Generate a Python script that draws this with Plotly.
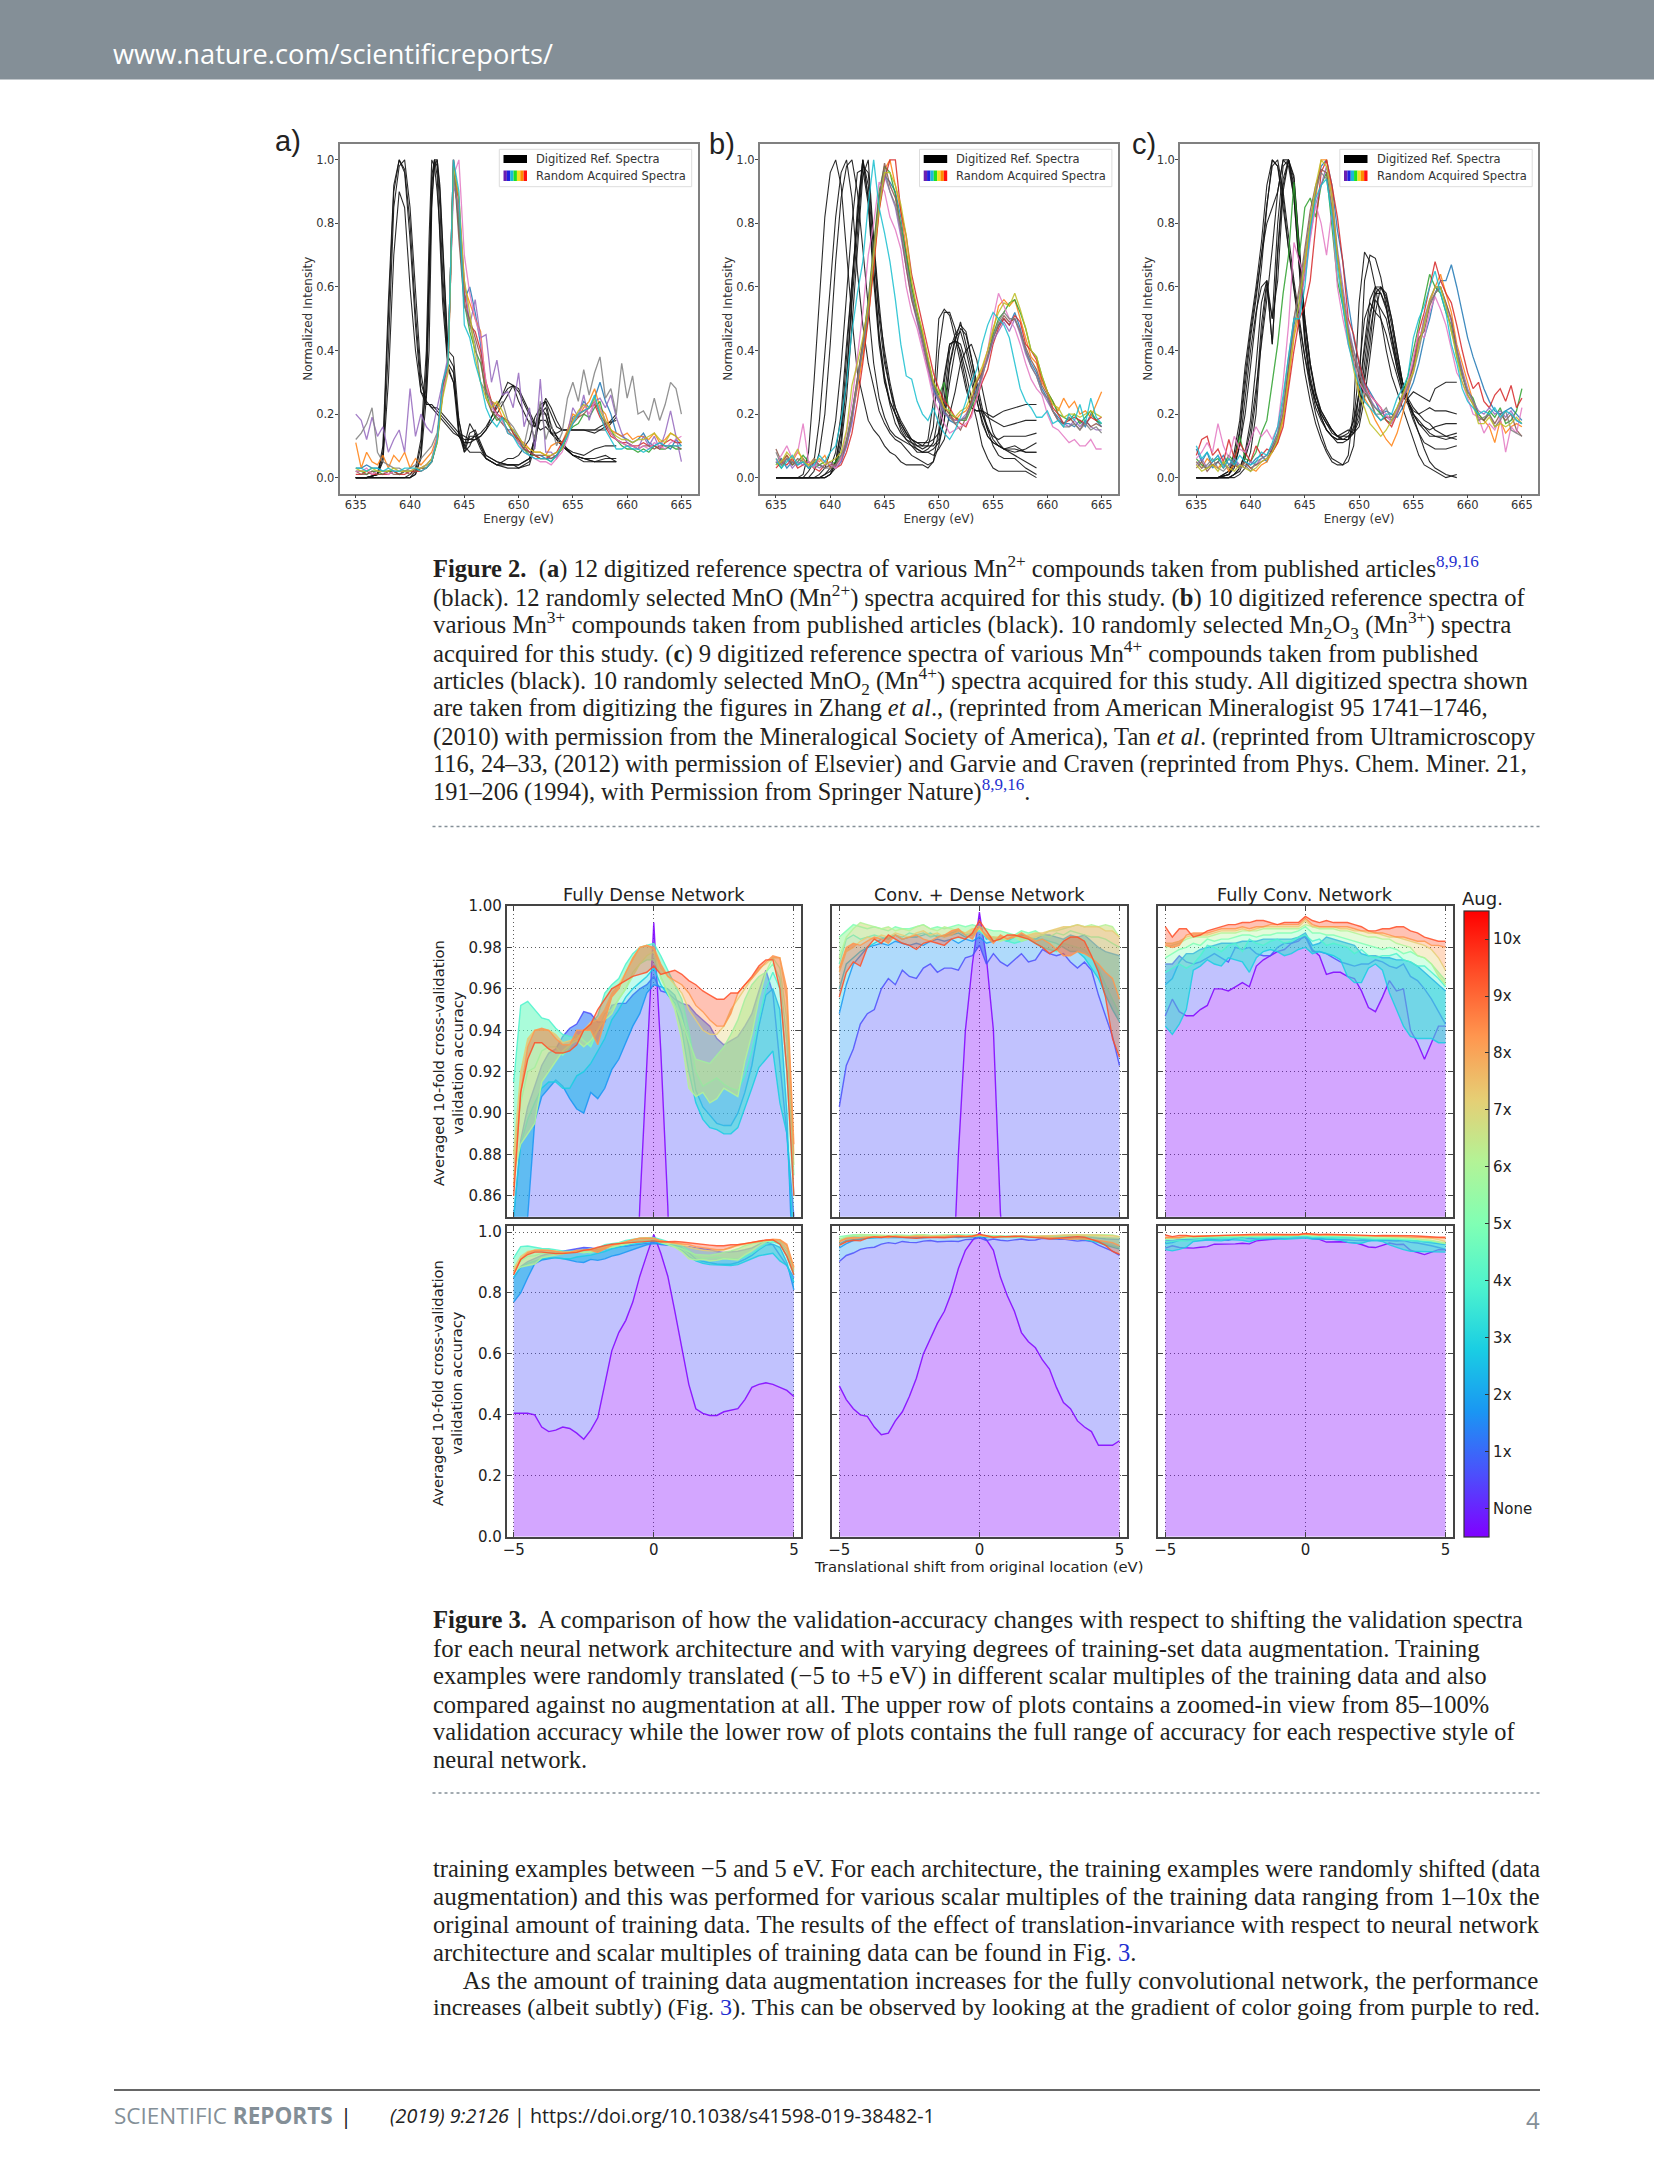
import plotly.graph_objects as go

W, H = 1654, 2174

# ---------- Figure 2 data (intensity in percent) ----------
ENERGY = [635,635.5,636,636.5,637,637.5,638,638.5,639,639.5,
 640,640.5,641,641.5,642,642.5,643,643.5,644,644.5,
 645,645.5,646,646.5,647,647.5,648,648.5,649,649.5,
 650,650.5,651,651.5,652,652.5,653,653.5,654,654.5,
 655,655.5,656,656.5,657,657.5,658,658.5,659,659.5,
 660,660.5,661,661.5,662,662.5,663,663.5,664,664.5,665]

REF_A_X = [635,636,637,637.5,638,638.5,639,639.5,640,640.5,
 641,641.5,641.75,642,642.25,642.5,642.75,643,643.5,644,
 644.5,645,645.5,646,646.5,647,648,649,649.5,650,
 651,651.5,652,652.5,653,653.5,654,655,656,657,658,659]
REF_A = [
 [0,0,1,10,55,92,100,96,75,48, 27,23,23,22,21,20,19,18,16,14, 13,12,12,13,14,16,22,30,29,24, 17,16,23,24,20,16,15,15,15,15, 17,18],
 [0,0,1,6,40,85,98,100,85,58, 33,23,23,23,22,22,21,20,18,16, 14,13,12,12,13,15,23,28,29,27, 20,16,20,25,22,18,15,15,15,14, 16,20],
 [0,0,1,8,50,90,100,97,80,52, 30,24,23,22,22,21,20,19,17,15, 13,11,11,12,13,15,20,26,29,28, 21,17,15,16,14,14,15,15,15,15, 15,19],
 [0,0,1,5,30,70,90,85,60,40, 27,25,40,85,100,95,75,55,34,30, 18,10,8,8,8,6,4,4,4,4, 6,13,20,22,16,13,10,7,6,5, 5,5],
 [0,0,0,0,0,0,0,0,0,1, 7,35,65,92,100,100,90,72,38,35, 14,8,13,13,9,6,4,3,3,3, 5,12,20,20,14,13,11,7,5,5, 6,6],
 [0,0,0,0,0,0,0,0,0,2, 10,30,60,95,100,98,85,65,36,33, 15,9,14,15,11,7,5,4,4,4, 6,13,18,18,14,12,10,7,6,6, 7,5],
 [0,0,0,0,0,0,0,0,1,3, 12,40,75,100,98,90,78,60,35,30, 13,10,17,14,10,7,5,4,4,3, 4,10,21,24,16,13,10,7,6,5, 5,5],
 [0,0,0,0,0,0,0,0,0,1, 6,25,55,88,98,100,92,75,40,38, 18,8,10,14,10,6,4,6,6,7, 12,19,22,20,14,12,10,8,7,9, 10,10],
]
ACQ_A = [
 [3,3,4,3,3,2,2,2,1,2, 2,2,3,4,6,12,28,36,100,78, 56,60,52,42,28,23,20,18,15,15, 12,9,8,7,7,6,6,7,9,13, 19,20,24,22,25,30,24,20,14,13, 12,11,12,14,11,10,11,10,9,12, 10],
 [11,3,8,5,4,7,3,7,5,8, 3,6,4,6,8,13,26,35,96,88, 60,55,50,46,28,24,23,19,14,13, 12,11,9,8,8,7,10,11,11,15, 20,19,22,24,28,22,20,15,14,13, 14,12,13,13,12,14,11,12,14,13, 11],
 [2,2,1,2,2,1,2,2,1,2, 2,2,3,3,5,11,27,37,98,80, 55,46,40,36,27,21,18,19,17,14, 11,9,7,7,6,6,5,7,9,14, 16,17,20,19,22,24,17,15,12,10, 9,9,8,9,8,10,9,9,10,9, 9],
 [1,1,2,1,1,1,1,2,1,1, 2,2,2,3,5,12,29,36,100,86, 58,48,46,40,30,24,20,19,18,14, 12,10,8,7,6,6,7,8,11,14, 18,20,21,22,23,19,16,13,12,11, 11,10,10,11,10,10,9,11,12,11, 11],
 [20,18,12,19,13,16,8,12,15,8, 28,13,20,16,14,22,30,38,92,85, 62,48,56,44,45,30,37,26,27,22, 33,16,22,9,31,8,8,6,10,14, 22,19,26,18,24,25,22,26,19,14, 11,10,9,13,10,13,9,14,21,13, 5],
 [2,1,1,2,1,1,2,1,1,2, 1,2,3,3,5,12,26,36,100,75, 54,50,44,38,25,21,19,17,15,13, 11,9,8,7,7,7,6,7,10,14, 17,19,20,22,24,20,17,14,12,11, 10,10,9,10,10,9,10,10,10,10, 9],
 [2,2,3,1,2,2,1,2,2,2, 2,3,3,4,6,13,27,34,95,100, 70,58,50,44,30,22,20,18,14,13, 11,8,7,6,5,5,4,6,8,12, 18,20,23,20,24,22,18,14,12,11, 10,10,9,10,9,11,10,9,11,12, 13],
 [12,14,17,22,8,5,4,3,3,2, 3,4,6,8,10,14,30,35,96,82, 55,48,42,30,27,24,22,24,18,16, 13,10,18,12,24,12,17,10,14,25, 30,24,34,26,33,38,25,28,20,36, 25,32,20,21,18,25,18,23,30,28, 20],
 [3,2,2,3,2,2,2,3,2,2, 2,3,3,4,6,11,25,33,98,88, 62,52,38,30,25,22,24,21,17,15, 13,10,9,8,8,7,7,8,9,14, 18,21,23,22,25,21,18,15,13,12, 12,11,12,12,13,14,12,11,14,13, 11],
 [3,3,2,3,3,2,3,2,2,3, 3,3,2,3,5,12,30,36,100,90, 48,44,36,30,22,18,16,19,14,13, 10,8,7,6,6,6,5,7,10,13, 17,20,21,22,26,20,15,12,9,9, 10,9,9,8,9,10,11,10,10,10, 10],
]
REF_B_X = [635,636,637,637.5,638,638.5,639,639.5,640,640.5,
 641,641.5,642,642.5,643,643.5,644,644.5,645,645.5,
 646,646.5,647,647.5,648,648.5,649,649.5,650,650.5,
 651,651.5,652,652.5,653,653.5,654,654.5,655,655.5,
 656,657,658,659]
REF_B = [
 [0,0,0,1,8,30,55,82,96,100, 92,72,50,33,25,18,15,13,10,8, 7,5,4,4,4,4,3,5,15,30, 42,43,40,33,25,18,10,6,3,2, 2,2,2,0],
 [0,0,0,0,2,5,18,38,60,82, 96,100,88,65,48,36,28,21,17,14, 12,11,9,7,6,5,4,5,10,18, 30,40,47,45,38,30,22,15,10,7, 6,6,3,1],
 [0,0,0,0,0,2,8,20,42,68, 88,98,100,90,72,52,36,25,19,15, 13,12,11,10,8,8,9,11,20,32, 42,43,42,36,30,24,18,13,11,10, 9,10,8,8],
 [0,0,0,0,0,0,1,3,8,18, 35,58,80,96,97,86,62,42,30,24, 20,17,14,12,10,9,10,16,40,52, 52,47,38,30,22,21,21,19,18,17, 16,17,18,18],
 [0,0,0,0,0,0,0,1,3,8, 20,42,62,80,100,88,66,44,31,23, 17,14,12,11,10,10,12,24,50,53, 51,44,36,28,22,21,21,20,19,20, 21,22,23,23],
 [0,0,0,0,0,0,0,0,1,4, 12,30,58,85,100,88,65,45,32,24, 20,16,13,12,11,10,10,10,12,25, 40,45,48,46,38,28,20,15,13,12, 13,13,13,14],
 [0,0,0,0,0,0,0,1,2,5, 15,38,62,82,100,92,70,50,36,28, 22,17,14,11,9,8,8,9,11,18, 35,43,49,42,35,27,20,16,12,10, 9,9,8,8],
 [0,0,0,0,0,0,0,0,1,3, 10,25,48,72,95,100,75,55,38,28, 20,15,12,10,9,8,8,7,9,12, 20,27,36,40,42,37,28,20,14,11, 9,7,5,3],
 [0,0,0,0,0,0,0,0,1,5, 15,32,55,78,98,96,74,52,40,30, 22,18,15,12,11,11,11,12,14,22, 36,44,46,40,32,24,17,13,11,10, 9,8,9,11],
]
ACQ_B = [
 [4,6,3,5,4,5,3,5,4,3, 4,3,5,10,18,30,40,52,70,88, 95,93,90,82,70,58,50,44,36,28, 24,21,18,17,18,19,23,28,32,38, 44,48,50,48,52,47,40,36,33,28, 25,21,19,17,17,16,18,16,20,18, 16],
 [6,4,7,5,8,6,4,6,5,7, 3,4,6,11,19,28,38,50,66,84, 97,100,92,84,72,60,52,46,37,30, 26,22,20,18,20,21,24,30,34,40, 46,54,56,54,56,50,44,38,36,30, 27,24,21,25,22,24,20,21,19,23, 27],
 [5,3,6,4,5,7,5,3,4,5, 4,5,7,12,20,31,42,56,74,90, 98,96,89,80,70,60,52,45,37,30, 26,30,20,19,18,18,22,26,33,38, 45,50,52,55,56,52,47,40,38,32, 27,24,20,19,18,20,17,19,21,18, 17],
 [3,5,4,6,3,4,5,3,2,4, 5,3,4,8,14,24,36,50,66,84, 94,100,100,84,76,64,56,48,40,33, 28,24,22,19,17,16,20,25,30,34, 42,47,50,48,51,49,42,40,37,31, 27,22,20,17,18,19,18,17,19,18, 19],
 [5,4,6,3,5,4,5,4,3,4, 5,3,5,10,17,30,43,55,70,86, 95,90,85,76,66,56,49,41,34,27, 24,20,19,18,18,20,23,27,33,37, 43,46,49,46,50,45,39,35,32,27, 24,21,18,17,16,18,16,18,16,15, 15],
 [9,5,7,4,6,5,3,5,4,3, 4,4,6,11,20,31,43,54,72,88, 99,92,88,78,66,56,50,43,35,29, 25,22,20,17,15,19,24,30,33,38, 44,48,51,49,50,46,41,37,34,29, 26,21,18,17,19,17,15,18,16,17, 16],
 [5,7,10,6,8,17,5,3,6,5, 4,3,6,14,24,38,52,70,80,93, 90,82,78,72,60,52,47,40,33,25, 21,17,14,15,16,17,19,25,31,40, 50,58,54,50,47,42,36,31,28,26, 20,16,15,13,11,12,10,10,12,9, 9],
 [8,4,6,5,4,6,3,6,4,3, 3,4,7,11,20,30,41,52,70,86, 97,90,86,78,68,58,50,44,36,29, 25,21,19,17,18,19,23,27,32,38, 44,49,52,50,50,46,40,35,32,27, 25,21,18,16,16,17,15,17,15,16, 14],
 [4,5,8,6,9,5,4,5,6,4, 5,6,8,15,29,36,44,54,70,85, 96,96,92,86,76,62,53,46,38,30, 27,22,21,19,21,22,26,31,35,40, 47,52,55,54,58,53,47,40,38,32, 27,23,22,19,20,20,19,20,21,20, 19],
 [6,3,5,7,4,5,3,4,7,5, 8,10,18,30,46,58,68,86,100,85, 77,68,56,42,32,31,24,20,18,22, 17,14,12,15,19,24,30,34,42,48, 52,50,48,44,36,28,24,22,19,19, 21,17,18,16,20,18,23,17,25,19, 17],
]
REF_C_X = [635,636,637,638,638.5,639,639.5,640,640.5,641,
 641.5,642,642.5,643,643.5,644,644.5,645,645.5,646,
 646.5,647,647.5,648,648.5,649,649.5,650,650.5,651,
 651.5,652,652.5,653,653.5,654,654.5,655,655.5,656,
 656.5,657,658,659]
REF_C = [
 [0,0,0,2,8,18,35,48,60,74, 92,100,98,85,72,58,45,33,24,17, 12,8,5,4,4,7,22,55,71,68, 60,50,40,32,27,22,17,12,7,4, 3,2,0,1],
 [0,0,0,1,5,14,30,44,56,70, 86,98,100,90,76,62,50,38,28,20, 14,9,6,5,4,5,10,28,62,70, 69,63,54,45,36,30,24,19,14,9, 5,3,1,0],
 [0,0,0,0,1,2,6,12,25,48, 62,42,70,92,100,92,68,45,32,24, 19,15,13,12,12,13,14,16,25,38, 52,60,57,50,40,30,25,22,20,18, 17,15,13,12],
 [0,0,0,0,0,1,3,8,20,44, 60,50,62,90,100,95,72,50,36,26, 20,17,14,13,14,15,14,18,30,42, 58,58,54,44,34,28,24,21,20,21, 22,21,21,20],
 [0,0,0,1,3,10,25,40,52,60, 62,50,80,98,100,88,66,44,30,22, 18,15,13,12,13,13,15,22,36,50, 60,60,56,48,38,30,24,20,17,16, 15,16,17,17],
 [0,0,0,2,6,15,32,46,58,70, 80,85,90,100,98,88,64,42,30,24, 20,17,15,13,12,12,16,27,42,56, 60,58,53,45,36,28,25,27,26,25, 24,28,30,30],
 [0,0,0,0,1,3,8,18,35,55, 62,42,72,94,100,90,70,48,35,26, 21,18,15,13,12,12,14,20,32,46, 56,53,50,42,34,27,24,20,17,15, 13,13,13,14],
 [0,0,0,1,4,10,20,35,50,66, 85,100,98,88,72,60,48,38,30,24, 19,15,13,11,11,12,18,34,50,55, 52,50,45,38,32,26,23,18,14,11, 10,9,9,10],
 [0,0,0,0,1,3,7,15,28,42, 56,72,90,100,100,94,72,50,36,27, 21,18,15,13,13,14,18,26,40,52, 58,60,58,50,40,30,24,20,18,16, 14,13,12,13],
]
ACQ_C = [
 [9,5,8,3,5,7,4,6,3,5, 4,6,7,5,9,12,20,35,48,55, 68,78,90,98,100,92,78,68,55,44, 36,30,27,24,20,21,20,19,22,26, 30,36,44,50,58,62,62,67,60,52, 44,38,33,28,24,21,20,21,22,20, 18],
 [5,3,6,4,3,5,2,4,3,5, 3,2,4,5,8,11,18,30,44,52, 66,80,88,100,100,90,70,56,46,36, 28,25,22,18,15,12,10,14,20,27, 34,42,50,55,60,64,58,52,42,36, 30,24,20,18,16,11,18,14,16,17, 16],
 [6,4,3,5,6,4,7,5,13,6, 5,8,14,18,30,42,58,70,93,70, 85,88,82,92,96,78,62,54,44,36, 30,28,24,22,20,18,17,21,26,32, 40,48,55,64,60,58,52,48,38,32, 27,25,20,18,21,19,22,17,18,21, 28],
 [7,12,13,7,9,5,12,6,11,8, 5,10,7,9,8,11,16,28,40,50, 54,62,80,96,100,92,82,68,50,45, 36,30,26,24,22,18,16,20,24,29, 36,46,52,60,68,62,58,55,48,40, 33,28,30,24,22,26,28,24,29,22, 25],
 [4,6,3,5,7,4,3,6,4,3, 5,4,6,7,10,14,22,34,47,52, 64,76,86,92,98,88,72,60,48,40, 33,29,25,22,21,19,18,21,25,29, 36,42,50,56,60,60,55,49,41,34, 28,24,21,20,22,20,21,19,21,18, 17],
 [3,5,2,4,5,3,6,4,3,5, 3,4,5,6,9,13,20,36,50,60, 72,84,92,97,96,85,70,56,46,38, 32,27,24,20,18,19,19,22,26,30, 35,44,46,54,58,60,55,50,40,33, 26,23,19,18,20,17,20,18,20,15, 13],
 [6,8,11,8,17,10,6,13,9,8, 12,16,13,15,12,16,30,48,74,68, 62,75,86,80,70,84,60,50,42,36, 30,27,26,24,22,20,17,21,25,30, 38,46,44,52,57,53,48,41,33,30, 25,20,19,14,17,15,19,8,16,14, 22],
 [5,3,4,6,3,2,4,5,3,4, 2,5,6,7,10,14,24,38,50,58, 70,82,90,96,94,84,68,58,46,40, 34,28,25,20,20,22,18,20,25,28, 33,40,48,55,58,60,54,46,40,32, 27,24,18,19,20,16,18,21,15,14, 13],
 [4,2,3,4,2,5,3,2,4,3, 2,3,5,6,8,12,19,32,45,56, 68,80,92,100,98,88,70,56,44,34, 26,22,17,15,13,15,18,22,26,30, 33,42,48,56,60,60,54,46,38,30, 26,23,17,17,19,16,17,16,17,19, 17],
 [10,6,8,5,7,3,6,4,7,5, 4,5,8,7,11,16,26,38,50,50, 60,78,88,92,94,82,66,54,42,35, 29,24,22,20,18,20,20,25,28,32, 44,50,54,60,65,58,52,42,36,28, 24,22,20,21,20,22,19,21,20,18, 17],
]

# ---------- Figure 3 data (accuracy in per mille) ----------
SHIFT = [-5,-4.75,-4.5,-4.25,-4,-3.75,-3.5,-3.25,-3,-2.75,
 -2.5,-2.25,-2,-1.75,-1.5,-1.25,-1,-.75,-.5,-.25,
 0,.25,.5,.75,1,1.25,1.5,1.75,2,2.25,
 2.5,2.75,3,3.25,3.5,3.75,4,4.25,4.5,4.75,5]
DENSE = [
 [405,405,405,400,360,345,350,360,355,340, 320,350,390,500,610,670,710,770,855,925, 992,930,855,740,620,500,420,405,398,398, 410,415,420,450,490,500,505,500,490,480, 460],
 [850,887,903,913,923,929,931,937,941,943, 949,948,944,944,952,953,953,957,960,962, 966,959,958,955,953,952,948,945,942,936, 933,935,937,942,948,959,969,958,923,890, 850],
 [770,800,850,896,908,912,916,913,907,902, 900,910,907,912,921,926,934,942,948,958, 962,961,960,957,948,932,911,903,899,895, 894,894,900,910,923,942,957,960,950,900, 810],
 [850,885,897,905,912,915,915,912,912,918, 920,924,930,936,945,950,956,960,963,966, 970,962,957,953,940,920,905,897,893,892, 890,890,893,902,912,922,926,930,905,890, 835],
 [915,952,954,950,946,945,941,938,937,936, 940,943,947,958,962,965,972,977,980,981, 982,976,969,962,955,940,920,913,915,917, 914,912,911,918,930,945,960,968,960,920, 860],
 [880,905,920,922,930,932,932,928,932,938, 935,932,940,948,950,955,960,968,972,974, 974,966,958,952,945,935,926,925,924,928, 932,938,945,955,962,966,968,972,965,935, 870],
 [870,885,890,895,915,920,925,930,933,935, 932,935,940,945,948,955,960,966,972,976, 978,965,958,950,935,912,908,910,905,907, 912,910,908,925,938,955,968,975,970,945, 875],
 [880,920,936,940,940,940,938,934,935,936, 940,944,945,950,958,962,968,974,980,981, 979,970,966,962,958,950,945,940,938,938, 942,950,955,960,965,970,972,975,975,955, 880],
 [865,910,932,940,941,940,936,933,933,940, 940,940,933,945,956,960,968,975,980,981, 980,972,966,964,962,958,952,949,945,942, 942,948,958,962,965,969,973,976,975,960, 885],
 [860,910,926,934,934,931,929,929,930,933, 940,943,950,955,960,962,964,966,967,968, 971,967,968,969,967,964,962,959,957,955, 955,958,958,962,966,971,974,974,960,920, 860],
]
CONV_DENSE = [
 [495,450,420,400,395,360,335,340,380,410, 460,520,600,650,700,740,800,880,940,972, 997,975,940,852,790,740,670,640,620,580, 550,490,440,420,380,360,345,300,300,300, 315],
 [903,923,931,943,948,950,960,965,962,969, 966,965,970,972,968,970,970,969,975,976, 981,972,977,973,971,974,977,973,974,979, 977,976,977,973,970,973,969,957,947,937, 923],
 [948,962,972,976,980,981,982,981,983,982, 981,982,981,983,984,983,984,982,984,983, 985,982,983,984,984,985,986,985,984,986, 986,985,984,986,985,986,983,980,978,977, 976],
 [960,972,975,978,980,982,984,985,986,984, 985,985,986,987,985,986,986,987,985,986, 990,984,985,984,983,985,986,985,984,984, 983,982,980,978,978,975,970,965,957,950, 944],
 [972,984,986,984,985,986,985,984,986,985, 987,986,987,985,986,985,987,988,986,987, 988,985,983,984,983,982,983,984,982,980, 979,978,982,981,980,979,975,970,962,955, 948],
 [985,988,991,990,989,990,989,988,990,989, 989,990,991,989,990,989,990,991,990,991, 990,989,988,988,987,986,988,987,988,986, 985,987,986,988,987,986,985,985,984,982, 980],
 [975,985,989,992,991,990,989,990,988,989, 988,990,991,989,988,990,989,988,987,986, 989,985,984,983,984,985,983,984,985,986, 988,988,989,990,991,990,991,990,991,990, 985],
 [968,978,980,983,985,984,986,985,987,986, 985,987,988,986,987,985,986,988,987,989, 989,986,985,985,984,986,985,986,987,987, 988,989,990,990,991,990,990,990,988,988, 985],
 [970,980,982,981,983,985,984,982,986,984, 985,986,984,983,985,986,988,989,986,984, 990,985,982,986,984,985,987,985,983,984, 982,979,976,976,978,977,975,972,968,965, 955],
 [956,968,973,971,980,984,982,986,984,982, 981,979,982,983,982,981,984,985,984,987, 993,988,983,984,986,986,985,984,982,980, 977,979,983,985,985,983,976,968,956,936, 927],
]
FULL_CONV = [
 [947,955,949,947,947,950,952,960,960,959, 961,963,961,971,974,976,978,979,982,983, 986,979,976,967,968,968,966,965,959,951, 949,956,964,959,960,940,934,926,934,942, 942],
 [972,972,976,973,972,973,975,977,975,973, 980,979,980,977,976,976,980,982,982,984, 985,978,978,977,975,973,972,971,972,972, 974,973,971,970,972,966,964,960,955,949, 943],
 [962,965,973,977,977,979,980,981,982,982, 982,983,983,983,984,984,984,984,984,985, 987,981,982,985,984,983,982,981,977,976, 976,975,975,974,974,973,971,968,965,962, 959],
 [942,938,943,950,969,971,974,972,971,975, 974,973,968,975,978,979,978,976,977,979, 980,977,978,977,976,974,966,963,963,970, 972,969,958,950,942,937,936,936,936,934, 934],
 [968,970,972,970,972,976,981,980,978,981, 982,978,984,982,981,983,984,982,983,985, 986,983,984,981,982,981,980,977,979,976, 975,976,976,977,974,973,971,971,968,965, 961],
 [975,977,979,980,982,981,984,983,984,984, 985,986,986,985,986,986,987,987,987,988, 990,987,987,986,986,985,984,983,982,981, 980,979,980,979,977,978,976,975,972,968, 964],
 [980,981,982,984,985,985,985,986,987,987, 987,988,988,988,989,989,989,989,989,989, 991,990,989,989,989,988,988,987,986,985, 985,984,984,982,981,980,976,975,972,966, 962],
 [982,982,983,985,986,986,986,987,988,988, 988,989,988,989,990,990,990,990,990,990, 993,990,990,990,990,989,989,988,988,987, 987,986,985,985,984,983,982,981,979,975, 969],
 [981,980,981,986,987,987,987,988,989,989, 989,990,989,990,990,991,991,991,991,991, 994,991,990,990,990,990,990,989,988,988, 987,987,986,985,985,984,983,983,981,981, 980],
 [990,985,989,989,985,986,988,989,990,991, 991,992,992,993,993,992,991,992,992,992, 995,993,992,993,992,992,992,991,990,988, 988,989,989,990,990,988,987,985,984,983, 983],
]
AUG_LABELS = ["None","1x","2x","3x","4x","5x","6x","7x","8x","9x","10x"]
NET_TITLES = ["Fully Dense Network","Conv. + Dense Network","Fully Conv. Network"]

# ---------- text ----------
LINK = "<span style='color:#1f2fd0'>%s</span>"
CAP2 = [
 "<b>Figure 2.</b>  (<b>a</b>) 12 digitized reference spectra of various Mn<sup>2+</sup> compounds taken from published articles<sup>"+LINK%"8,9,16"+"</sup>",
 "(black). 12 randomly selected MnO (Mn<sup>2+</sup>) spectra acquired for this study. (<b>b</b>) 10 digitized reference spectra of",
 "various Mn<sup>3+</sup> compounds taken from published articles (black). 10 randomly selected Mn<sub>2</sub>O<sub>3</sub> (Mn<sup>3+</sup>) spectra",
 "acquired for this study. (<b>c</b>) 9 digitized reference spectra of various Mn<sup>4+</sup> compounds taken from published",
 "articles (black). 10 randomly selected MnO<sub>2</sub> (Mn<sup>4+</sup>) spectra acquired for this study. All digitized spectra shown",
 "are taken from digitizing the figures in Zhang <i>et al</i>., (reprinted from American Mineralogist 95 1741–1746,",
 "(2010) with permission from the Mineralogical Society of America), Tan <i>et al</i>. (reprinted from Ultramicroscopy",
 "116, 24–33, (2012) with permission of Elsevier) and Garvie and Craven (reprinted from Phys. Chem. Miner. 21,",
 "191–206 (1994), with Permission from Springer Nature)<sup>"+LINK%"8,9,16"+"</sup>.",
]
CAP3 = [
 "<b>Figure 3.</b>  A comparison of how the validation-accuracy changes with respect to shifting the validation spectra",
 "for each neural network architecture and with varying degrees of training-set data augmentation. Training",
 "examples were randomly translated (−5 to +5 eV) in different scalar multiples of the training data and also",
 "compared against no augmentation at all. The upper row of plots contains a zoomed-in view from 85–100%",
 "validation accuracy while the lower row of plots contains the full range of accuracy for each respective style of",
 "neural network.",
]
BODY = [
 "training examples between −5 and 5 eV. For each architecture, the training examples were randomly shifted (data",
 "augmentation) and this was performed for various scalar multiples of the training data ranging from 1–10x the",
 "original amount of training data. The results of the effect of translation-invariance with respect to neural network",
 "architecture and scalar multiples of training data can be found in Fig. "+LINK%"3"+".",
 "     As the amount of training data augmentation increases for the fully convolutional network, the performance",
 "increases (albeit subtly) (Fig. "+LINK%"3"+"). This can be observed by looking at the gradient of color going from purple to red.",
]
CAP2_Y = [568,596.5,625,653,681,708.5,736.5,764,790.5]
CAP3_Y = [1619,1648,1676,1704,1731,1759]
BODY_Y = [1869,1897,1924,1952,1980,2007]
CAP2_SIZE = [24.5,24.6,24.85,24.7,24.65,24.6,24.65,24.4,24.3]
CAP3_SIZE = [24.65,24.8,24.75,24.5,24.35,24.55]
BODY_SIZE = [24.45,25.1,24.5,24.6,24.95,24.1]

# ---------- styling ----------
TAB10 = ["#1f77b4","#ff7f0e","#2ca02c","#d62728","#9467bd","#8c564b","#e377c2","#7f7f7f","#bcbd22","#17becf"]
RAINBOW = ["#8000ff","#4c4ffc","#1a96f3","#1acee3","#4df3ce","#80ffb4","#b3f396","#e6ce74","#ff964f","#ff4f28","#ff0000"]
LEG_STRIPS = ["#6a1fb0","#2020e0","#18b8d8","#20e020","#f0e020","#ff8c00","#ff1010"]
SERIF = "Liberation Serif"
DEJA = "DejaVu Sans"
GRAY = "#848f97"

def hexa(c, a):
    return "rgba(%d,%d,%d,%s)" % (int(c[1:3],16), int(c[3:5],16), int(c[5:7],16), a)
def fx(p): return p / W
def fy(p): return 1 - p / H

fig = go.Figure()
layout = dict(width=W, height=H, margin=dict(l=0,r=0,t=0,b=0,autoexpand=False), autosize=False,
              paper_bgcolor="white", plot_bgcolor="white", showlegend=False,
              font=dict(family=DEJA, color="#222222"))
shapes, annos = [], []

def text(x, y, s, size, family=SERIF, color="#231f20", anchor="left", angle=0, va="middle"):
    annos.append(dict(xref="paper", yref="paper", x=fx(x), y=fy(y), text=s, showarrow=False,
                      xanchor=anchor, yanchor=va, align="left" if anchor=="left" else "center",
                      font=dict(family=family, size=size, color=color), textangle=angle,
                      borderpad=0, borderwidth=0))
def rect(x0, y0, x1, y1, fill, line=None, lw=0):
    shapes.append(dict(type="rect", xref="paper", yref="paper", x0=fx(x0), x1=fx(x1), y0=fy(y0), y1=fy(y1),
                       fillcolor=fill, line=dict(color=line or fill, width=lw), layer="above"))
def hline(x0, x1, y, color, width, dash="solid"):
    shapes.append(dict(type="line", xref="paper", yref="paper", x0=fx(x0), x1=fx(x1), y0=fy(y), y1=fy(y),
                       line=dict(color=color, width=width, dash=dash), layer="above"))

axis_n = 0
def new_axes(x0, x1, y0, y1):
    global axis_n
    axis_n += 1
    s = "" if axis_n == 1 else str(axis_n)
    return s, "xaxis"+s, "yaxis"+s, dict(domain=[fx(x0), fx(x1)], anchor="y"+s), dict(domain=[fy(y1), fy(y0)], anchor="x"+s)

# ---------- header / footer ----------
shapes.append(dict(type="rect", xref="paper", yref="paper", x0=0, x1=1, y0=fy(79.5), y1=1,
                   fillcolor=GRAY, line=dict(width=0), layer="below"))
text(113, 53, "www.nature.com/scientificreports/", 27.2, family="Open Sans", color="white")
hline(114, 1540, 2090, "#333333", 1.5)
text(114, 2115, "SCIENTIFIC <b>REPORTS</b>", 22.5, family="Open Sans", color=GRAY)
text(340, 2115, "|", 22, family="Open Sans", color="#222222")
text(390, 2115, "<i>(2019) 9:2126</i> | https://doi.org/10.1038/s41598-019-38482-1", 19.7, family="Open Sans", color="#222222")
text(1540, 2119, "4", 24, family="Open Sans", color=GRAY, anchor="right")

# ---------- captions ----------
for y, s, z in zip(CAP2_Y, CAP2, CAP2_SIZE): text(432.5, y, s, z)
for y, s, z in zip(CAP3_Y, CAP3, CAP3_SIZE): text(432.5, y, s, z)
for y, s, z in zip(BODY_Y, BODY, BODY_SIZE): text(432.5, y, s, z)
hline(432.5, 1540, 826.5, GRAY, 1.5, "dot")
hline(432.5, 1540, 1793, GRAY, 1.5, "dot")

# ---------- Figure 2 ----------
PANELS = [("a)", 339.5, 275, 141, REF_A_X, REF_A, ACQ_A),
          ("b)", 759.7, 709, 144, REF_B_X, REF_B, ACQ_B),
          ("c)", 1180.0, 1132, 144, REF_C_X, REF_C, ACQ_C)]
for label, left, lab_x, lab_y, rx, refs, acqs in PANELS:
    s, xn, yn, xa, ya = new_axes(left, left+358.2, 144, 493.5)
    xa.update(range=[633.5,666.5], tickvals=[635,640,645,650,655,660,665], showline=True, mirror=True,
              linecolor="#808080", linewidth=1.5, ticks="outside", ticklen=3, tickcolor="#444",
              tickfont=dict(size=11.5, family=DEJA, color="#333"), showgrid=False, zeroline=False,
              ticklabelstandoff=-3,
              title=dict(text="Energy (eV)", font=dict(size=12, family=DEJA, color="#333"), standoff=1))
    ya.update(range=[-0.05,1.05], tickvals=[0,.2,.4,.6,.8,1], tickformat=".1f", showline=True, mirror=True,
              linecolor="#808080", linewidth=1.5, ticks="outside", ticklen=3, tickcolor="#444",
              tickfont=dict(size=11.5, family=DEJA, color="#333"), showgrid=False, zeroline=False,
              ticklabelstandoff=-2,
              title=dict(text="Normalized Intensity", font=dict(size=12, family=DEJA, color="#333"), standoff=1))
    layout[xn], layout[yn] = xa, ya
    for r in refs:
        fig.add_trace(go.Scatter(x=rx, y=[v/100 for v in r], mode="lines", xaxis="x"+s, yaxis="y"+s,
                                 line=dict(color="rgba(20,20,20,.9)", width=1.1)))
    for i, a in enumerate(acqs):
        fig.add_trace(go.Scatter(x=ENERGY, y=[v/100 for v in a], mode="lines", xaxis="x"+s, yaxis="y"+s,
                                 line=dict(color=hexa(TAB10[i], .85), width=1.3)))
    text(lab_x, lab_y, label, 29, family="Liberation Sans", color="#222222")
    d = left - 339.5
    rect(499.3+d, 149.3, 691.7+d, 186.7, "rgba(255,255,255,.85)", "#dddddd", 1)
    rect(503.5+d, 155, 527+d, 163, "#000000")
    for k, c in enumerate(LEG_STRIPS):
        rect(503.5+d+k*23.5/7, 170.5, 503.5+d+(k+1)*23.5/7, 181, c)
    text(536+d, 158.7, "Digitized Ref. Spectra", 11.5, family=DEJA, color="#333")
    text(536+d, 175.7, "Random Acquired Spectra", 11.5, family=DEJA, color="#333")

# ---------- Figure 3 ----------
NETS = [DENSE, CONV_DENSE, FULL_CONV]
LEFTS = [506.7, 832.3, 1158.3]
GRID = dict(showgrid=True, griddash="1px,3px", gridcolor="rgba(50,50,50,.8)", gridwidth=1)
for row, (top, bot) in enumerate([(906, 1216.7), (1225.7, 1536.7)]):
    for col, (net, left) in enumerate(zip(NETS, LEFTS)):
        s, xn, yn, xa, ya = new_axes(left, left+294.2, top, bot)
        xa.update(range=[-5.25,5.25], tickvals=[-5,0,5], ticktext=["−5","0","5"], showticklabels=(row==1),
                  showline=True, mirror="allticks", linecolor="#444", linewidth=1.6, ticks="inside", ticklen=5,
                  tickcolor="#444", tickfont=dict(size=15, family=DEJA, color="#222"), zeroline=False,
                  ticklabelstandoff=-2, **GRID)
        if row == 0:
            ya.update(range=[.85,1.0], tickvals=[.86,.88,.90,.92,.94,.96,.98,1.0], tickformat=".2f")
        else:
            ya.update(range=[0,1.0207], tickvals=[0,.2,.4,.6,.8,1.0], tickformat=".1f")
        ya.update(showticklabels=(col==0), showline=True, mirror="allticks", linecolor="#444", linewidth=1.6,
                  ticks="inside", ticklen=5, tickcolor="#444", tickfont=dict(size=15, family=DEJA, color="#222"),
                  zeroline=False, **GRID)
        layout[xn], layout[yn] = xa, ya
        for i, curve in enumerate(net):
            fig.add_trace(go.Scatter(x=SHIFT, y=[v/1000 for v in curve], mode="lines", xaxis="x"+s, yaxis="y"+s,
                                     line=dict(color=hexa(RAINBOW[i], .85), width=1.4),
                                     fill="tozeroy" if i == 0 else "tonexty",
                                     fillcolor=hexa(RAINBOW[i], .35)))
        if row == 0:
            text(left+147.1, 895, NET_TITLES[col], 17.7, family=DEJA, color="#222", anchor="center")
# colour scale
fig.add_trace(go.Scatter(x=[0], y=[5], mode="markers", xaxis="x"+s, yaxis="y"+s,
    marker=dict(size=1, color=[0], cmin=-.5, cmax=10.5, showscale=True,
        colorscale=[[i/10, c] for i, c in enumerate(RAINBOW)],
        colorbar=dict(x=fx(1464.3), xanchor="left", xpad=0, ypad=0, y=fy(1536.7), yanchor="bottom",
                      thickness=24.5, thicknessmode="pixels", len=626.4, lenmode="pixels",
                      tickmode="array", tickvals=list(range(11)), ticktext=AUG_LABELS, ticks="inside",
                      ticklen=4, tickcolor="#333", tickfont=dict(size=15, family=DEJA, color="#222"),
                      outlinewidth=1.2, outlinecolor="#333", borderwidth=0))))
text(1482, 898, "Aug.", 18, family=DEJA, color="#222", anchor="center")
text(448, 1063, "Averaged 10-fold cross-validation<br>validation accuracy", 14.7, family=DEJA, color="#222", anchor="center", angle=-90)
text(447, 1383, "Averaged 10-fold cross-validation<br>validation accuracy", 14.7, family=DEJA, color="#222", anchor="center", angle=-90)
text(979, 1566, "Translational shift from original location (eV)", 14.8, family=DEJA, color="#222", anchor="center")

layout["shapes"], layout["annotations"] = shapes, annos
fig.update_layout(**layout)
fig.write_html("out.html", config=dict(displayModeBar=False),
               post_script="document.body.style.margin='0';document.body.style.overflow='hidden';window.dispatchEvent(new Event('resize'));")
